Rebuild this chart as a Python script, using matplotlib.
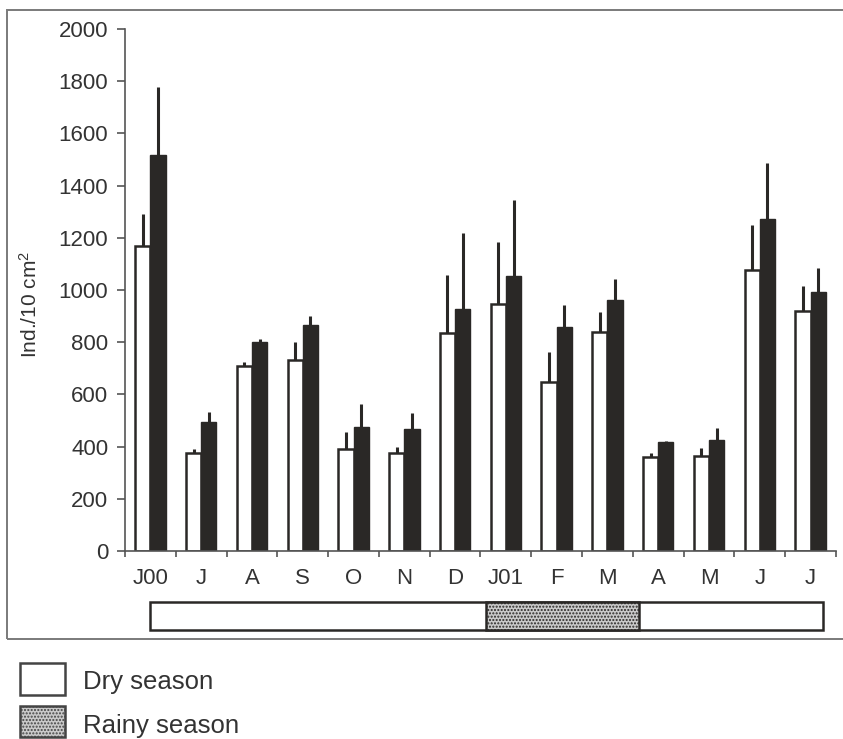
import numpy as np
import matplotlib
matplotlib.use("Agg")
import matplotlib.pyplot as plt
from matplotlib.patches import Rectangle
from matplotlib.transforms import blended_transform_factory

plt.rcParams['font.family'] = ['Liberation Sans', 'DejaVu Sans']
plt.rcParams['mathtext.fontset'] = 'custom'
plt.rcParams['mathtext.rm'] = 'Liberation Sans'
plt.rcParams['mathtext.it'] = 'Liberation Sans'
plt.rcParams['mathtext.default'] = 'regular'
plt.rcParams['hatch.color'] = '#a0a0a0'

# ---- data ----
categories = ['J00', 'J', 'A', 'S', 'O', 'N', 'D', 'J01', 'F', 'M', 'A', 'M', 'J', 'J']
dry_means = [1170, 375, 709, 732, 390, 375, 835, 946, 648, 839, 360, 364, 1077, 920]
dry_err = [121, 15, 15, 69, 66, 23, 222, 238, 114, 77, 15, 30, 172, 95]
wet_means = [1517, 494, 800, 866, 475, 467, 927, 1054, 858, 962, 417, 425, 1272, 992]
wet_err = [261, 39, 12, 34, 88, 62, 291, 291, 85, 80, 4, 46, 215, 92]
y_ticks = [0, 200, 400, 600, 800, 1000, 1200, 1400, 1600, 1800, 2000]
legend_labels = ['Dry season', 'Rainy season']

TXT = '#333333'
DARK = '#2a2826'
AX = '#555555'

W, H = 843, 739
fig = plt.figure(figsize=(W / 100, H / 100), dpi=100)
fig.patch.set_facecolor('white')

ax = fig.add_axes([125 / W, (H - 551) / H, 711 / W, 522 / H])
x = np.arange(len(categories))
bw = 0.3

ax.bar(x - bw / 2, dry_means, width=bw, facecolor='white', edgecolor=DARK, linewidth=1.8, zorder=2)
ax.bar(x + bw / 2, wet_means, width=bw, facecolor=DARK, edgecolor=DARK, linewidth=1.0, zorder=2)
zeros = np.zeros(len(categories))
ax.errorbar(x - bw / 2, dry_means, yerr=[zeros, dry_err], fmt='none', ecolor=DARK,
            elinewidth=2.2, capsize=0, zorder=1)
ax.errorbar(x + bw / 2, wet_means, yerr=[zeros, wet_err], fmt='none', ecolor=DARK,
            elinewidth=2.2, capsize=0, zorder=1)

ax.set_xlim(-0.5, len(categories) - 0.5)
ax.set_ylim(0, 2000)
ax.set_yticks(y_ticks)
ax.set_yticklabels([str(v) for v in y_ticks], fontsize=16, color=TXT)
ax.set_xticks(np.arange(-0.5, len(categories), 1))
ax.set_xticklabels([])
ax.set_xticks(x, minor=True)
ax.set_xticklabels(categories, minor=True, fontsize=16, color=TXT)
ax.tick_params(axis='x', which='major', direction='out', length=4, width=1.2, color=AX)
ax.tick_params(axis='x', which='minor', length=0, pad=12)
ax.tick_params(axis='y', direction='out', length=6, width=1.2, color=AX, pad=6)

for s in ['top', 'right']:
    ax.spines[s].set_visible(False)
for s in ['left', 'bottom']:
    ax.spines[s].set_color(AX)
    ax.spines[s].set_linewidth(1.2)
ax.set_facecolor('none')

# season bar under axis
tr = blended_transform_factory(ax.transData, ax.transAxes)
y0 = (551 - 630) / 522
hh = (630 - 602) / 522
ax.add_patch(Rectangle((0.0, y0), 13.24, hh, transform=tr, facecolor='white',
                       edgecolor=DARK, linewidth=1.8, clip_on=False))
ax.add_patch(Rectangle((6.61, y0), 3.01, hh, transform=tr, facecolor='#cacaca',
                       edgecolor=DARK, linewidth=1.8, clip_on=False, hatch='.....'))

# y label
fig.text(30 / W, (H - 304) / H, 'Ind./10 cm$^2$', rotation=90, ha='center', va='center',
         fontsize=15, color=TXT)

# frame
fig.add_artist(Rectangle((7 / W, (H - 639) / H), 1.0, (639 - 10) / H, transform=fig.transFigure,
                         facecolor='none', edgecolor='#7a7a7a', linewidth=1.4, clip_on=False))

# legend
fig.add_artist(Rectangle((20 / W, (H - 695) / H), 45 / W, 32 / H, transform=fig.transFigure,
                         facecolor='white', edgecolor='#444444', linewidth=1.8))
fig.add_artist(Rectangle((20 / W, (H - 737) / H), 45 / W, 31 / H, transform=fig.transFigure,
                         facecolor='#cacaca', edgecolor='#444444', linewidth=1.8, hatch='.....'))
fig.text(83 / W, (H - 689) / H, legend_labels[0], fontsize=18.5, color=TXT, va='baseline')
fig.text(83 / W, (H - 733) / H, legend_labels[1], fontsize=18.5, color=TXT, va='baseline')

fig.savefig('out.png', dpi=100)
